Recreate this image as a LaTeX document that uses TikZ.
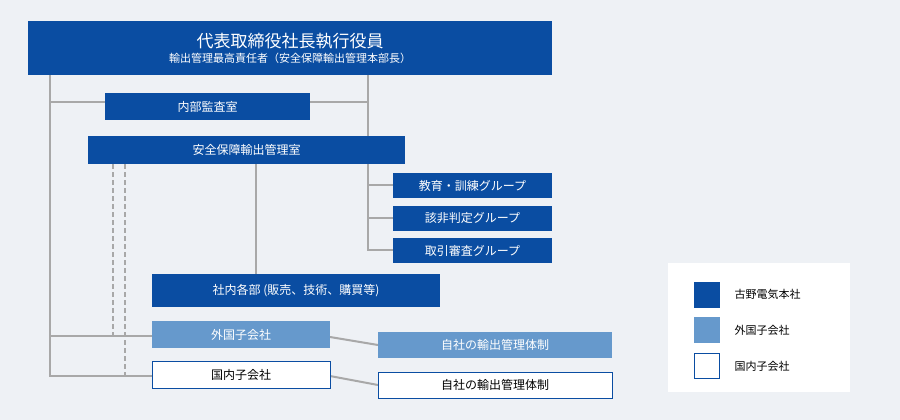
\documentclass[tikz,border=0pt]{standalone}
\usepackage{fontspec}
\setmainfont{Noto Sans CJK JP}
\definecolor{dblue}{HTML}{0A4DA2}
\definecolor{lblue}{HTML}{6699CC}
\definecolor{bg}{HTML}{EEF1F5}
\definecolor{ln}{HTML}{A8A8A8}
\begin{document}
\begin{tikzpicture}[x=1pt,y=-1pt,
  dbox/.style={fill=dblue,text=white,inner sep=0pt,font=\fontsize{12}{14}\selectfont},
  lbox/.style={fill=lblue,text=white,inner sep=0pt,font=\fontsize{12}{14}\selectfont},
  wbox/.style={fill=white,draw=dblue,line width=0.8pt,text=black,inner sep=0pt,font=\fontsize{12}{14}\selectfont},
  conn/.style={draw=ln,line width=2pt},
  dconn/.style={draw=ln,line width=1.3pt,dash pattern=on 5pt off 3pt}]
\fill[bg] (0,0) rectangle (900,420);
\useasboundingbox (0,0) rectangle (900,420);
% lines first
\coordinate (L1) at (50,75);
\coordinate (L2) at (50,376);
\coordinate (R1) at (368,75);
\coordinate (R2) at (368,250);
\draw[conn] (L1) -- (L2) -- (152,376);
\draw[conn] (50,336) -- (152,336);
\draw[conn] (50,102) -- (105,102);
\draw[conn] (310,102) -- (368,102);
\draw[conn] (R1) -- (R2) -- (393,250);
\draw[conn] (368,185) -- (393,185);
\draw[conn] (368,218) -- (393,218);
\draw[conn] (256,164) -- (256,274);
\draw[dconn] (113,164) -- (113,336);
\draw[dconn] (125,164) -- (125,376);
\draw[conn] (330,337) -- (378,345);
\draw[conn] (330,376) -- (378,385);
% boxes
\node[dbox,minimum width=524,minimum height=54,align=center] (ceo) at (290,48)
 {{\fontsize{17}{20}\selectfont 代表取締役社長執行役員}\\[1pt]{\fontsize{11}{13}\selectfont 輸出管理最高責任者（安全保障輸出管理本部長）}};
\node[dbox,minimum width=205,minimum height=27] (audit) at (207.5,106.5) {内部監査室};
\node[dbox,minimum width=317,minimum height=28] (sec) at (246.5,150) {安全保障輸出管理室};
\node[dbox,minimum width=159,minimum height=25] (g1) at (472.5,185.5) {教育・訓練グループ};
\node[dbox,minimum width=159,minimum height=25] (g2) at (472.5,218.5) {該非判定グループ};
\node[dbox,minimum width=159,minimum height=25] (g3) at (472.5,250.5) {取引審査グループ};
\node[dbox,minimum width=288,minimum height=33] (dept) at (296,290.5) {社内各部 (販売、技術、購買等)};
\node[lbox,minimum width=178,minimum height=27] (fs) at (241,334.5) {外国子会社};
\node[wbox,minimum width=178,minimum height=27] (ds) at (241,375) {国内子会社};
\node[lbox,minimum width=234,minimum height=26] (fc) at (495,345) {自社の輸出管理体制};
\node[wbox,minimum width=234,minimum height=26] (dc) at (495,385) {自社の輸出管理体制};
% legend
\node[fill=white,minimum width=182,minimum height=129,inner sep=0pt] (leg) at (759,327.5) {};
\node[fill=dblue,minimum size=26,inner sep=0pt] (k1) at (706.5,294.5) {};
\node[fill=lblue,minimum size=26,inner sep=0pt] (k2) at (706.5,330) {};
\node[fill=white,draw=dblue,line width=0.8pt,minimum size=25,inner sep=0pt] (k3) at (706.5,366) {};
\node[anchor=west,font=\fontsize{11}{13}\selectfont] at (731,294.5) {古野電気本社};
\node[anchor=west,font=\fontsize{11}{13}\selectfont] at (731,330) {外国子会社};
\node[anchor=west,font=\fontsize{11}{13}\selectfont] at (731,366) {国内子会社};
\end{tikzpicture}
\end{document}
